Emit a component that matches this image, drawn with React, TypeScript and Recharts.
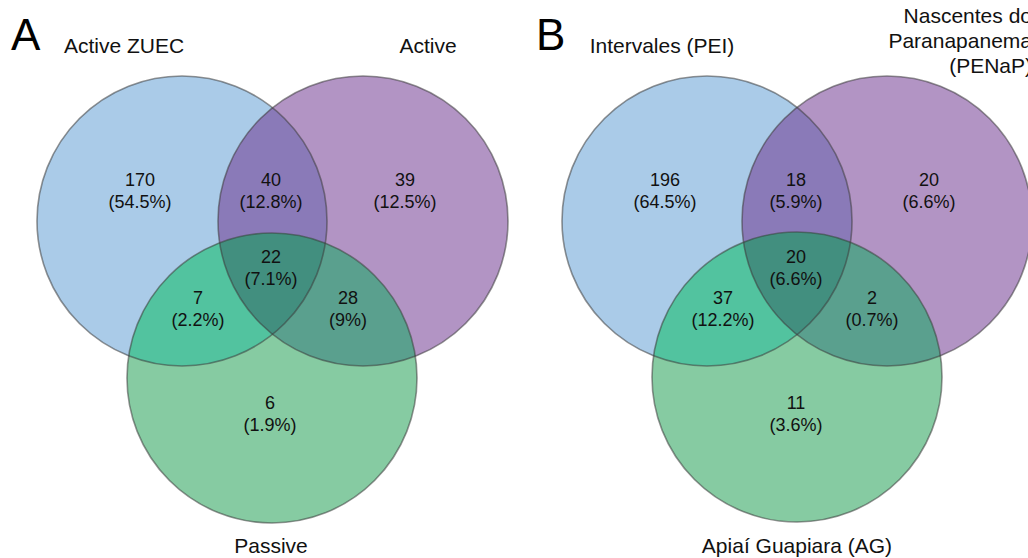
import React from 'react';
import { ScatterChart, Scatter, XAxis, YAxis } from 'recharts';

const CHART_W = 1028;
const CHART_H = 558;
const X_MAX = 1028;
const Y_MAX = 558;
const SCALE = CHART_W / X_MAX;

// Venn circles (layout units)
const circleNames = ['Active ZUEC', 'Active', 'Passive', 'Intervales (PEI)', 'Nascentes do Paranapanema (PENaP)', 'Apiaí Guapiara (AG)'];
const circleX = [182, 363, 272, 707, 887, 797];
const circleY = [221, 221, 378, 221, 221, 377];
const circleR = [145, 145, 145, 145, 145, 145];
const circleFill = ['#aacbe8', '#b294c4', '#86cba2', '#aacbe8', '#b294c4', '#86cba2'];

// overlap colours: [first∩second, first∩third, second∩third, all three]
const overlapNames = ['first∩second', 'first∩third', 'second∩third', 'all three'];
const overlapFill = ['#8a7ab8', '#52c39f', '#5aa08e', '#428f7f'];
// which circle (within a panel) is drawn, and which circles clip it
const overlapDrawn = [0, 2, 2, 2];
const overlapClips = [[1], [0], [1], [0, 1]];

// region counts and percentages
const regionsA = ['ZUEC only', 'ZUEC∩Active', 'Active only', 'all', 'ZUEC∩Passive', 'Active∩Passive', 'Passive only'];
const countsA = [170, 40, 39, 22, 7, 28, 6];
const percentA = ['54.5%', '12.8%', '12.5%', '7.1%', '2.2%', '9%', '1.9%'];
const countsB = [196, 18, 20, 20, 37, 2, 11];
const percentB = ['64.5%', '5.9%', '6.6%', '6.6%', '12.2%', '0.7%', '3.6%'];
const labelXA = [140, 271, 405, 271, 198, 348, 270];
const labelXB = [665, 796, 929, 796, 723, 872, 796];
const labelY = [186, 186, 186, 263, 304, 304, 409];

// set name labels
const setLabelText = [['Active ZUEC'], ['Active'], ['Passive'], ['Intervales (PEI)'], ['Nascentes do', 'Paranapanema', '(PENaP)'], ['Apiaí Guapiara (AG)']];
const setLabelX = [124, 428, 271, 662, 1032, 797];
const setLabelY = [53, 53, 553, 53, 23, 553];
const setLabelAnchor = ['middle', 'middle', 'middle', 'middle', 'end', 'middle'];

// panel letters
const panelLetters = ['A', 'B'];
const panelX = [11, 536];
const panelY = [50, 50];

const FONT = '"Liberation Sans", Arial, Helvetica, sans-serif';

const circleData = circleNames.map((name, i) => ({ name, id: `venn-c${i}`, x: circleX[i], y: circleY[i], r: circleR[i], fill: circleFill[i] }));
const overlapData = [0, 1].flatMap((p) =>
  overlapNames.map((name, k) => {
    const d = p * 3 + overlapDrawn[k];
    return {
      name,
      x: circleX[d],
      y: circleY[d],
      r: circleR[d],
      fill: overlapFill[k],
      clips: overlapClips[k].map((c) => `venn-c${p * 3 + c}`),
    };
  })
);
const regionData = [
  ...regionsA.map((name, i) => ({ name, x: labelXA[i], y: labelY[i], count: countsA[i], pct: percentA[i] })),
  ...regionsA.map((name, i) => ({ name, x: labelXB[i], y: labelY[i], count: countsB[i], pct: percentB[i] })),
];
const setLabelData = setLabelText.map((lines, i) => ({ lines, x: setLabelX[i], y: setLabelY[i], anchor: setLabelAnchor[i] }));
const panelData = panelLetters.map((t, i) => ({ t, x: panelX[i], y: panelY[i] }));

const CircleShape = (props: any) => {
  const { cx, cy, payload } = props;
  const r = payload.r * SCALE;
  return (
    <g>
      <defs>
        <clipPath id={payload.id}>
          <circle cx={cx} cy={cy} r={r} />
        </clipPath>
      </defs>
      <circle cx={cx} cy={cy} r={r} fill={payload.fill} stroke="none" />
    </g>
  );
};

const OverlapShape = (props: any) => {
  const { cx, cy, payload } = props;
  const r = payload.r * SCALE;
  let node: any = <circle cx={cx} cy={cy} r={r} fill={payload.fill} stroke="none" />;
  payload.clips.forEach((id: string) => {
    node = <g clipPath={`url(#${id})`}>{node}</g>;
  });
  return node;
};

const OutlineShape = (props: any) => {
  const { cx, cy, payload } = props;
  return (
    <circle cx={cx} cy={cy} r={payload.r * SCALE} fill="none" stroke="#3c3c3c" strokeOpacity={0.55} strokeWidth={1.6} />
  );
};

const RegionShape = (props: any) => {
  const { cx, cy, payload } = props;
  return (
    <text x={cx} textAnchor="middle" fontFamily={FONT} fontSize={18} fill="#111">
      <tspan x={cx} y={cy}>{payload.count}</tspan>
      <tspan x={cx} y={cy + 22}>({payload.pct})</tspan>
    </text>
  );
};

const SetLabelShape = (props: any) => {
  const { cx, cy, payload } = props;
  return (
    <text textAnchor={payload.anchor} fontFamily={FONT} fontSize={21} fill="#111">
      {payload.lines.map((l: string, i: number) => (
        <tspan key={i} x={cx} y={cy + i * 25}>{l}</tspan>
      ))}
    </text>
  );
};

const PanelShape = (props: any) => {
  const { cx, cy, payload } = props;
  return (
    <text x={cx} y={cy} textAnchor="start" fontFamily={FONT} fontSize={44} fill="#000">{payload.t}</text>
  );
};

export default function App() {
  return (
    <div style={{ position: 'fixed', left: 0, top: 0, width: CHART_W, height: CHART_H, background: '#fff' }}>
      <ScatterChart width={CHART_W} height={CHART_H} margin={{ top: 0, right: 0, bottom: 0, left: 0 }}>
        <XAxis type="number" dataKey="x" domain={[0, X_MAX]} allowDataOverflow hide />
        <YAxis type="number" dataKey="y" domain={[0, Y_MAX]} allowDataOverflow reversed hide />
        <Scatter data={circleData} shape={CircleShape} isAnimationActive={false} />
        <Scatter data={overlapData} shape={OverlapShape} isAnimationActive={false} />
        <Scatter data={circleData} shape={OutlineShape} isAnimationActive={false} />
        <Scatter data={regionData} shape={RegionShape} isAnimationActive={false} />
        <Scatter data={setLabelData} shape={SetLabelShape} isAnimationActive={false} />
        <Scatter data={panelData} shape={PanelShape} isAnimationActive={false} />
      </ScatterChart>
    </div>
  );
}
